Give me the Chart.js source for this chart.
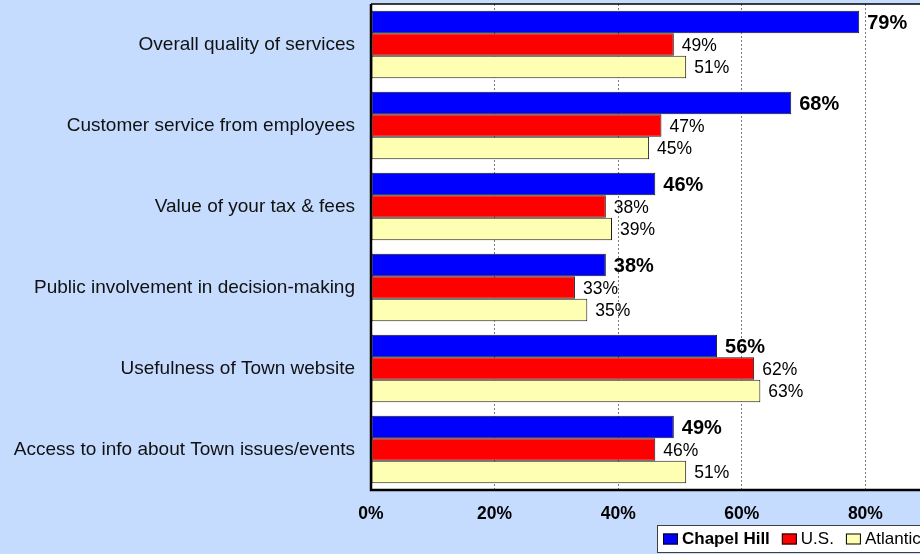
<!DOCTYPE html>
<html>
<head>
<meta charset="utf-8">
<script src="https://cdn.jsdelivr.net/npm/chart.js@4.4.1/dist/chart.umd.min.js"></script>
<style>
  html, body { margin: 0; padding: 0; background: #c6dcff; overflow: hidden; }
  #wrap { position: relative; width: 1000px; height: 554px; }
</style>
</head>
<body>
<div id="wrap"><canvas id="chart"></canvas></div>
<script>
const categories = [
  'Overall quality of services',
  'Customer service from employees',
  'Value of your tax & fees',
  'Public involvement in decision-making',
  'Usefulness of Town website',
  'Access to info about Town issues/events'
]
const seriesNames = ['Chapel Hill', 'U.S.', 'Atlantic']
const chapelHill = [79, 68, 46, 38, 56, 49]
const usValues = [49, 47, 38, 33, 62, 46]
const atlantic = [51, 45, 39, 35, 63, 51]
const xTicks = [0, 20, 40, 60, 80, 100]

const FONT = "'Liberation Sans', Arial, sans-serif"
const colors = ['#0000ff', '#ff0000', '#ffffb4']

// white plot area
const plotBg = {
  id: 'plotBg',
  beforeDraw(chart) {
    const {ctx, chartArea: a} = chart
    ctx.save()
    ctx.fillStyle = '#ffffff'
    ctx.fillRect(a.left, a.top, a.right - a.left, a.bottom - a.top)
    ctx.restore()
  }
}

// black frame left / top / bottom
const frame = {
  id: 'frame',
  afterDatasetsDraw(chart) {
    const {ctx, chartArea: a} = chart
    ctx.save()
    ctx.strokeStyle = '#000'
    ctx.lineWidth = 1.5
    ctx.beginPath()
    ctx.moveTo(a.right, a.top)
    ctx.lineTo(a.left, a.top)
    ctx.stroke()
    ctx.lineWidth = 2.5
    ctx.beginPath()
    ctx.moveTo(a.left, a.top)
    ctx.lineTo(a.left, a.bottom)
    ctx.lineTo(a.right, a.bottom)
    ctx.stroke()
    ctx.restore()
  }
}

// value labels at the end of each bar
const valueLabels = {
  id: 'valueLabels',
  afterDatasetsDraw(chart) {
    const {ctx} = chart
    ctx.save()
    ctx.fillStyle = '#000'
    ctx.textBaseline = 'middle'
    ctx.textAlign = 'left'
    chart.data.datasets.forEach((ds, i) => {
      const meta = chart.getDatasetMeta(i)
      ctx.font = i === 0 ? 'bold 20px ' + FONT : '17.5px ' + FONT
      meta.data.forEach((bar, j) => {
        ctx.fillText(ds.data[j] + '%', bar.x + 8, bar.y + 1.5)
      })
    })
    ctx.restore()
  }
}

// boxed legend below the axis
const legendBox = {
  id: 'legendBox',
  afterDraw(chart) {
    const {ctx} = chart
    const top = 525, h = 27, left = 657
    ctx.save()
    ctx.fillStyle = '#ffffff'
    ctx.strokeStyle = '#404040'
    ctx.lineWidth = 1
    ctx.fillRect(left, top, 400, h)
    ctx.strokeRect(left + 0.5, top + 0.5, 400, h)
    let x = left + 6
    const cy = top + h / 2 + 1
    chart.data.datasets.forEach((ds, i) => {
      ctx.fillStyle = ds.backgroundColor
      ctx.fillRect(x, cy - 6, 15, 11)
      ctx.strokeStyle = '#000'
      ctx.strokeRect(x + 0.5, cy - 5.5, 14, 10)
      x += 19
      ctx.font = (i === 0 ? 'bold ' : '') + '17px ' + FONT
      ctx.fillStyle = '#000'
      ctx.textBaseline = 'middle'
      ctx.fillText(ds.label, x, cy)
      x += ctx.measureText(ds.label).width + 12
    })
    ctx.restore()
  }
}

const noPad = scale => {
  scale.paddingTop = 0
  scale.paddingBottom = 0
  scale.paddingLeft = 0
  scale.paddingRight = 0
}

const ctx = document.getElementById('chart').getContext('2d')
const myChart = new Chart(ctx, {
  type: 'bar',
  data: {
    labels: categories,
    datasets: [
      { label: seriesNames[0], data: chapelHill, backgroundColor: colors[0] },
      { label: seriesNames[1], data: usValues, backgroundColor: colors[1] },
      { label: seriesNames[2], data: atlantic, backgroundColor: colors[2] }
    ].map(d => Object.assign(d, {
      borderColor: '#1a1a1a',
      borderWidth: 1,
      borderSkipped: false,
      categoryPercentage: 0.833,
      barPercentage: 1.0
    }))
  },
  options: {
    indexAxis: 'y',
    responsive: true,
    maintainAspectRatio: false,
    animation: false,
    devicePixelRatio: 1,
    layout: { padding: { top: 4, right: 11, left: 0, bottom: 0 } },
    plugins: {
      legend: { display: false },
      tooltip: { enabled: false }
    },
    scales: {
      x: {
        min: xTicks[0],
        max: xTicks[xTicks.length - 1],
        afterBuildTicks(scale) {
          scale.ticks = xTicks.map(v => ({ value: v }))
        },
        afterFit(scale) { scale.height = 64; noPad(scale) },
        grid: {
          drawTicks: false,
          lineWidth: 1,
          color: c => (c.tick && (c.tick.value === 0 || c.tick.value === 100)) ? 'rgba(0,0,0,0)' : '#7a7a7a'
        },
        border: { display: false, dash: [2, 2] },
        ticks: {
          padding: 14,
          color: '#000',
          font: { family: FONT, size: 17.5, weight: 'bold' },
          callback: v => v === 100 ? '' : v + '%'
        }
      },
      y: {
        afterFit(scale) { scale.width = 371; noPad(scale) },
        grid: { display: false, drawTicks: false },
        border: { display: false },
        ticks: {
          padding: 16,
          color: '#111',
          font: { family: FONT, size: 19 }
        }
      }
    }
  },
  plugins: [plotBg, frame, valueLabels, legendBox]
})
</script>
</body>
</html>
